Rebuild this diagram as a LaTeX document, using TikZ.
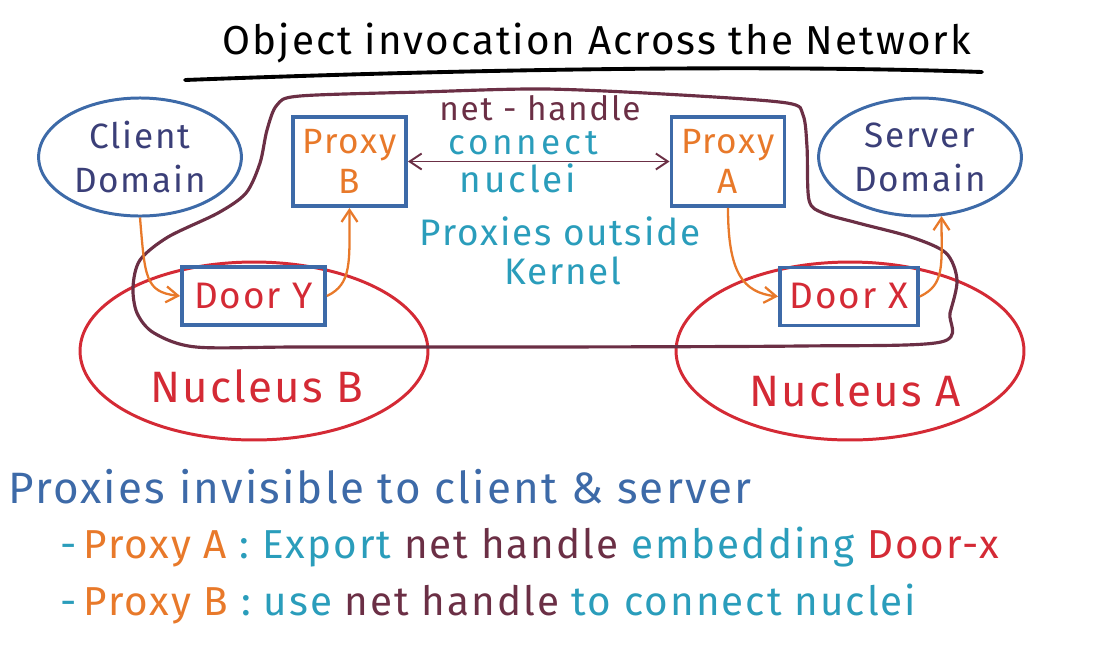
\documentclass[tikz,border=0pt]{standalone}
\usepackage{fontspec}
\setmainfont{Fira Sans}[LetterSpace=5]
\usetikzlibrary{arrows.meta,shapes.geometric}
\definecolor{penblue}{HTML}{3D6AA8}
\definecolor{pennavy}{HTML}{3B3F78}
\definecolor{penorange}{HTML}{E8792A}
\definecolor{penred}{HTML}{D42A35}
\definecolor{penmaroon}{HTML}{6B2F45}
\definecolor{penteal}{HTML}{2A9DBB}

\tikzset{
  domainell/.style={ellipse, draw=penblue, line width=1.7pt, minimum width=4cm,
    minimum height=2.36cm, text=pennavy, align=center,
    font=\fontsize{20}{25}\selectfont},
  nucleusell/.style={ellipse, draw=penred, line width=1.7pt, minimum width=6.96cm,
    minimum height=3.56cm},
  nucleustext/.style={text=penred, font=\fontsize{25}{30}\selectfont},
  proxybox/.style={draw=penblue, line width=2.2pt, minimum width=2.26cm,
    minimum height=1.78cm, text=penorange, align=center,
    font=\fontsize{20}{23}\selectfont},
  doorbox/.style={draw=penblue, line width=2.2pt, minimum width=2.86cm,
    minimum height=1.16cm, text=penred, font=\fontsize{21}{25}\selectfont},
  invoke/.style={->, penorange, line width=1.3pt},
  nethandle/.style={<->, penmaroon, line width=1.1pt},
  midlabel/.style={anchor=base, inner sep=0pt},
  note/.style={anchor=base west, inner sep=0pt, font=\fontsize{23}{28}\selectfont},
}

\begin{document}
\begin{tikzpicture}[x=0.02cm, y=-0.02cm, >={Straight Barb[length=2.4mm,width=3.2mm]}]
  \useasboundingbox (0,0) rectangle (1094,660);

  % ---------------- title ----------------
  \node[font=\fontsize{23}{28}\selectfont, anchor=base] (title) at (597,54) {Object invocation Across the Network};
  \draw[line width=2.2pt, line cap=round] (185,80) .. controls (450,70) and (750,64) .. (982,72);

  % ---------------- nuclei ----------------
  \node[nucleusell] (nucB) at (254,351) {};
  \node[nucleusell] (nucA) at (850,351) {};
  \node[nucleustext] (nucB-label) at (257,386) {Nucleus B};
  \node[nucleustext] (nucA-label) at (855,390) {Nucleus A};

  % ---------------- kernel boundary ----------------
  \draw[penmaroon, line width=1.8pt] plot[smooth cycle, tension=0.5] coordinates {
    (277,105) (300,96) (421,92) (545,89) (681,95) (787,103) (803,115)
    (807,147) (809,200) (823,213) (858,223) (911,237) (946,253) (957,280)
    (950,313) (941,342) (800,346) (540,347) (300,347) (196,347) (154,333)
    (137,313) (133,287) (140,260) (168,237) (218,213) (246,193) (260,163)
    (267,130)};

  % ---------------- domains, proxies, doors ----------------
  \node[domainell] (client) at (140,157) {Client\\Domain};
  \node[domainell] (server) at (920,157) {Server\\Domain};
  \node[proxybox] (proxyB) at (349.5,161.5) {Proxy\\B};
  \node[proxybox] (proxyA) at (728,161.5) {Proxy\\A};
  \node[doorbox] (doorY) at (253.5,296) {Door Y};
  \node[doorbox, minimum width=2.76cm] (doorX) at (849,296.5) {Door X};

  % invocation paths
  \draw[invoke] (client.south) .. controls +(5,60) and +(-35,-4) .. (doorY.west);
  \draw[invoke] (doorY.east) .. controls +(25,-12) and +(0,55) .. (proxyB.south);
  \draw[invoke] (proxyA.south) .. controls +(0,65) and +(-35,-4) .. (doorX.west);
  \draw[invoke] (doorX.east) .. controls +(25,-12) and +(0,50) .. (server.-70);
  \draw[nethandle] (proxyB.east) -- (proxyA.west);

  % labels between the proxies
  \node[midlabel, text=penmaroon, font=\fontsize{19}{24}\selectfont] (nh-label) at (540,120) {net - handle};
  \node[midlabel, text=penteal, font=\fontsize{20}{26}\selectfont\addfontfeatures{LetterSpace=11}] (connect-label) at (523,154) {connect};
  \node[midlabel, text=penteal, font=\fontsize{21}{26}\selectfont\addfontfeatures{LetterSpace=8}] (nuclei-label) at (518,192) {nuclei};
  \node[midlabel, text=penteal, font=\fontsize{21}{26}\selectfont] (outside-label) at (560,245) {Proxies outside};
  \node[midlabel, text=penteal, font=\fontsize{21}{26}\selectfont] (kernel-label) at (563,284) {Kernel};

  % ---------------- notes ----------------
  \node[note, text=penblue, font=\fontsize{25}{30}\selectfont] (note-1) at (8,503) {Proxies invisible to client \& server};
  \node[note] (note-2) at (60,558) {\textcolor{penteal}{-}\,\textcolor{penorange}{Proxy A}
    \textcolor{penteal}{: Export} \textcolor{penmaroon}{net handle}
    \textcolor{penteal}{embedding} \textcolor{penred}{Door-x}};
  \node[note] (note-3) at (60,615) {\textcolor{penteal}{-}\,\textcolor{penorange}{Proxy B}
    \textcolor{penteal}{: use} \textcolor{penmaroon}{net handle}
    \textcolor{penteal}{to connect nuclei}};
\end{tikzpicture}
\end{document}
